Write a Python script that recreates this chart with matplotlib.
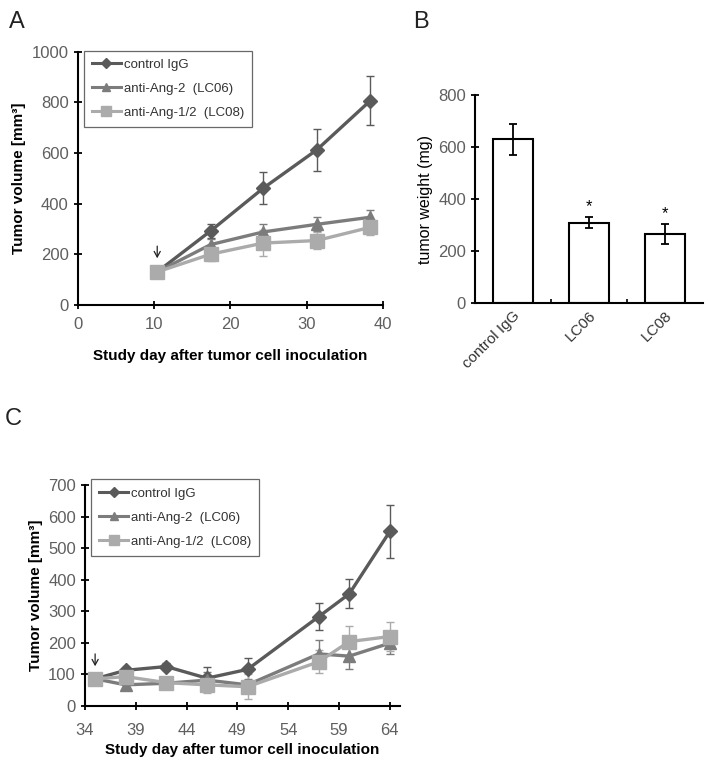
import matplotlib
matplotlib.use("Agg")
import matplotlib.pyplot as plt
from matplotlib.lines import Line2D

plt.rcParams['font.family'] = ['Liberation Sans', 'DejaVu Sans']

# panel A: tumor volume, first study
days_a = [10.4, 17.4, 24.3, 31.3, 38.3]
ctrl_a = [130, 292, 461, 612, 806]
ctrl_a_err = [8, 28, 64, 82, 97]
lc06_a = [130, 238, 288, 318, 346]
lc06_a_err = [8, 22, 30, 28, 28]
lc08_a = [130, 200, 244, 254, 306]
lc08_a_err = [8, 28, 50, 33, 30]

# panel B: tumor weight
groups_b = ['control IgG', 'LC06', 'LC08']
weight_b = [630, 310, 266]
weight_b_err = [58, 22, 37]
stars_b = ['', '*', '*']

# panel C: tumor volume, second study
days_c = [35, 38, 42, 46, 50, 57, 60, 64]
ctrl_c = [86, 113, 125, 88, 116, 283, 355, 553]
ctrl_c_err = [8, 10, 12, 37, 37, 43, 46, 85]
lc06_c = [86, 67, 72, 82, 67, 165, 158, 199]
lc06_c_err = [8, 10, 10, 25, 20, 45, 42, 35]
lc08_c = [86, 93, 74, 67, 61, 140, 204, 220]
lc08_c_err = [8, 12, 12, 25, 40, 37, 50, 47]

names = ['control IgG', 'anti-Ang-2  (LC06)', 'anti-Ang-1/2  (LC08)']
colors = ['#5a5a5a', '#7c7c7c', '#ababab']
markers = ['D', '^', 's']
msizes = [7.5, 8.5, 9.5]
tick_grey = '#5f5f5f'

fig = plt.figure(figsize=(7.08, 7.62), dpi=100)


def style_axes(ax):
    for s in ['top', 'right']:
        ax.spines[s].set_visible(False)
    for s in ['left', 'bottom']:
        ax.spines[s].set_linewidth(1.5)
    ax.tick_params(direction='inout', length=6, width=1.3, labelsize=12,
                   labelcolor=tick_grey)


def growth_panel(ax, days, series, errs, leg_top):
    for i in range(3):
        ax.errorbar(days, series[i], yerr=errs[i], color=colors[i],
                    marker=markers[i], markersize=msizes[i], lw=2.4,
                    elinewidth=1, capsize=3, capthick=1)
    handles = [Line2D([], [], color=colors[i], marker=markers[i], lw=2.2,
                      markersize=[5, 6, 7][i]) for i in range(3)]
    leg = ax.legend(handles, names, loc='upper left',
                    bbox_to_anchor=(0.02, leg_top), fontsize=9.5, frameon=True,
                    fancybox=False, handlelength=2.2, handletextpad=0.2,
                    borderpad=0.6, labelspacing=0.9, borderaxespad=0)
    leg.get_frame().set_edgecolor('#444444')
    leg.get_frame().set_linewidth(0.9)
    for t in leg.get_texts():
        t.set_color('#333333')
    style_axes(ax)
    ax.set_ylabel('Tumor volume [mm³]', fontsize=11, fontweight='bold')
    ax.set_xlabel('Study day after tumor cell inoculation', fontsize=11,
                  fontweight='bold')


arrow_kw = dict(arrowstyle='->,head_length=0.4,head_width=0.22', lw=0.9,
                color='#222222', shrinkA=0, shrinkB=0)

# A
ax_a = fig.add_axes([0.110, 0.600, 0.431, 0.332])
growth_panel(ax_a, days_a, [ctrl_a, lc06_a, lc08_a],
             [ctrl_a_err, lc06_a_err, lc08_a_err], 1.005)
ax_a.set_xlim(0, 40)
ax_a.set_ylim(0, 1000)
ax_a.set_xticks(range(0, 41, 10))
ax_a.set_yticks(range(0, 1001, 200))
ax_a.tick_params(axis='x', pad=6)
ax_a.xaxis.labelpad = 12
ax_a.annotate('', xy=(days_a[0], 184), xytext=(days_a[0], 232),
              arrowprops=arrow_kw)

# B
ax_b = fig.add_axes([0.671, 0.602, 0.322, 0.273])
pos_b = range(len(groups_b))
ax_b.bar(pos_b, weight_b, width=0.53, color='white', edgecolor='black',
         linewidth=1.5, yerr=weight_b_err,
         error_kw=dict(ecolor='black', elinewidth=1.3, capsize=3, capthick=1.3))
for p, w, e, s in zip(pos_b, weight_b, weight_b_err, stars_b):
    ax_b.text(p, w + e + 40, s, ha='center', va='center', fontsize=12)
style_axes(ax_b)
ax_b.set_xlim(-0.5, 2.5)
ax_b.set_ylim(0, 800)
ax_b.set_yticks(range(0, 801, 200))
ax_b.set_xticks(list(pos_b))
ax_b.set_xticklabels(groups_b, rotation=45, ha='right', rotation_mode='anchor',
                     fontsize=11, color='#333333')
ax_b.tick_params(axis='x', length=0)
ax_b.set_xticks([0.5, 1.5], minor=True)
ax_b.tick_params(axis='x', which='minor', length=3, width=1.2, direction='in')
ax_b.set_ylabel('tumor weight (mg)', fontsize=11.5)

# C
ax_c = fig.add_axes([0.120, 0.0735, 0.445, 0.290])
growth_panel(ax_c, days_c, [ctrl_c, lc06_c, lc08_c],
             [ctrl_c_err, lc06_c_err, lc08_c_err], 1.025)
ax_c.set_xlim(34, 65)
ax_c.set_ylim(0, 700)
ax_c.set_xticks(range(34, 65, 5))
ax_c.set_yticks(range(0, 701, 100))
ax_c.tick_params(axis='x', pad=9)
ax_c.xaxis.labelpad = 4
ax_c.annotate('', xy=(days_c[0], 126), xytext=(days_c[0], 165),
              arrowprops=arrow_kw)

for lbl, x, y in [('A', 0.012, 0.985), ('B', 0.583, 0.985), ('C', 0.007, 0.465)]:
    fig.text(x, y, lbl, fontsize=17, color='#222222', ha='left', va='top')

fig.savefig('out.png', dpi=100)
